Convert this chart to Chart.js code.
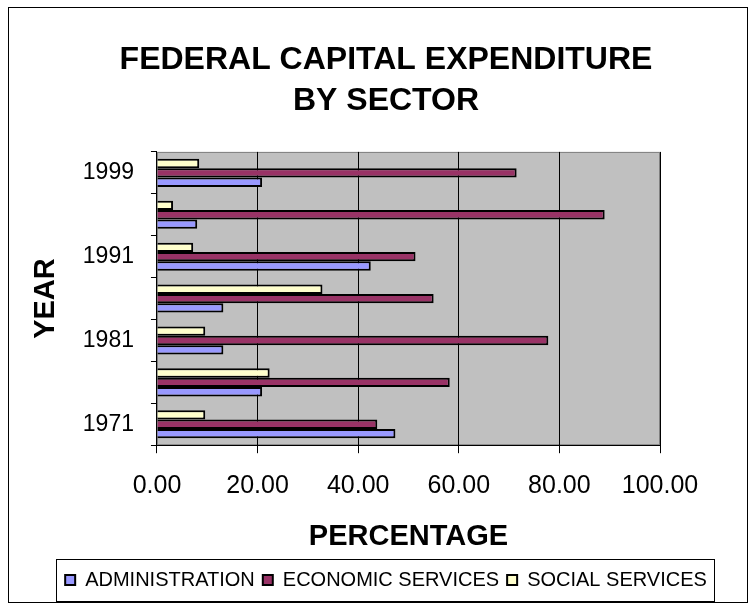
<!DOCTYPE html>
<html>
<head>
<meta charset="utf-8">
<script src="https://cdn.jsdelivr.net/npm/chart.js@4/dist/chart.umd.min.js"></script>
<style>
  html, body { margin: 0; padding: 0; background: #fff; }
  #frame {
    position: absolute; left: 8px; top: 7px; width: 740px; height: 596px;
    box-sizing: border-box; border: 1px solid #000;
  }
  #chart { position: absolute; left: 0; top: 0; }
</style>
</head>
<body>
<div id="frame"><canvas id="chart" width="738" height="594"></canvas></div>
<script>
  // values
  const years = ['1971', '1976', '1981', '1986', '1991', '1996', '1999'];
  const administration = [47.4, 20.9, 13.2, 13.2, 42.5, 8.0, 20.9];
  const economicServices = [43.8, 58.2, 77.8, 55.0, 51.4, 89.0, 71.5];
  const socialServices = [9.6, 22.4, 9.6, 32.9, 7.2, 3.2, 8.4];
  const xTicks = [0, 20, 40, 60, 80, 100];

  const FONT = '"Liberation Sans", Arial, sans-serif';

  // gray plot background with a thin border
  const plotBg = {
    id: 'plotBg',
    beforeDraw(chart){
      const a = chart.chartArea, ctx = chart.ctx;
      ctx.save();
      ctx.fillStyle = '#C0C0C0';
      ctx.fillRect(a.left, a.top, a.right - a.left, a.bottom - a.top);
      ctx.strokeStyle = '#808080';
      ctx.lineWidth = 1;
      ctx.strokeRect(a.left + 0.5, a.top + 0.5, a.right - a.left - 1, a.bottom - a.top - 1);
      ctx.restore();
    }
  };

  // box around the legend items
  const legendBox = {
    id: 'legendBox',
    afterDraw(chart){
      const boxes = chart.legend && chart.legend.legendHitBoxes;
      if(!boxes || !boxes.length) return;
      let l = Infinity, r = -Infinity, cy = 0;
      boxes.forEach(b => {
        l = Math.min(l, b.left);
        r = Math.max(r, b.left + b.width);
        cy += b.top + b.height / 2;
      });
      cy /= boxes.length;
      const ctx = chart.ctx;
      ctx.save();
      ctx.strokeStyle = '#000';
      ctx.lineWidth = 1;
      ctx.strokeRect(Math.round(l - 9) + 0.5, Math.round(cy - 21) + 0.5, Math.round(r - l + 16), 42);
      ctx.restore();
    }
  };

  new Chart(document.getElementById('chart'), {
    type: 'bar',
    data: {
      labels: years,
      datasets: [
        {
          label: 'ADMINISTRATION',
          data: administration,
          backgroundColor: '#9999FF',
          borderColor: '#000',
          borderWidth: 2,
          order: 3
        },
        {
          label: 'ECONOMIC SERVICES',
          data: economicServices,
          backgroundColor: '#993366',
          borderColor: '#000',
          borderWidth: 2,
          order: 2
        },
        {
          label: 'SOCIAL SERVICES',
          data: socialServices,
          backgroundColor: '#FFFFCC',
          borderColor: '#000',
          borderWidth: 2,
          order: 1
        }
      ]
    },
    options: {
      indexAxis: 'y',
      responsive: false,
      animation: false,
      devicePixelRatio: 1,
      categoryPercentage: 0.67,
      barPercentage: 1.0,
      layout: { padding: { left: 16, right: 0, top: 0, bottom: 2 } },
      scales: {
        x: {
          min: 0,
          max: 100,
          afterBuildTicks(scale){ scale.ticks = xTicks.map(v => ({ value: v })); },
          grid: { color: '#000', lineWidth: 1, tickLength: 8, drawTicks: true },
          border: { color: '#000', width: 1 },
          ticks: {
            color: '#000',
            font: { family: FONT, size: 25 },
            padding: 18,
            callback: v => Number(v).toFixed(2)
          },
          title: {
            display: true,
            text: 'PERCENTAGE',
            color: '#000',
            font: { family: FONT, size: 29, weight: 'bold' },
            padding: { top: 0, bottom: 8 }
          }
        },
        y: {
          reverse: true,
          grid: { offset: true, drawOnChartArea: false, color: '#000', tickLength: 6 },
          border: { color: '#000', width: 1 },
          ticks: {
            color: '#000',
            autoSkip: false,
            font: { family: FONT, size: 23 },
            padding: 17,
            callback: (v, i) => (i % 2 === 0 ? years[i] : '')
          },
          title: {
            display: true,
            text: 'YEAR',
            color: '#000',
            font: { family: FONT, size: 29, weight: 'bold' },
            padding: { top: 4, bottom: 2 }
          }
        },
        // empty spacer on the right, keeps the plot off the right edge
        spacer: {
          type: 'linear',
          position: 'right',
          display: true,
          grid: { display: false, drawTicks: false },
          border: { display: false },
          ticks: { display: false },
          afterFit(scale){ scale.width = 87; }
        }
      },
      plugins: {
        title: {
          display: true,
          text: ['FEDERAL CAPITAL EXPENDITURE', 'BY SECTOR'],
          color: '#000',
          font: { family: FONT, size: 32, weight: 'bold', lineHeight: 1.28 },
          padding: { top: 32, bottom: 30 }
        },
        legend: {
          display: true,
          position: 'bottom',
          labels: {
            color: '#000',
            font: { family: FONT, size: 20 },
            boxWidth: 10,
            boxHeight: 10,
            padding: 8,
            sort: (a, b) => a.datasetIndex - b.datasetIndex
          }
        },
        tooltip: { enabled: false }
      }
    },
    plugins: [plotBg, legendBox]
  });
</script>
</body>
</html>
